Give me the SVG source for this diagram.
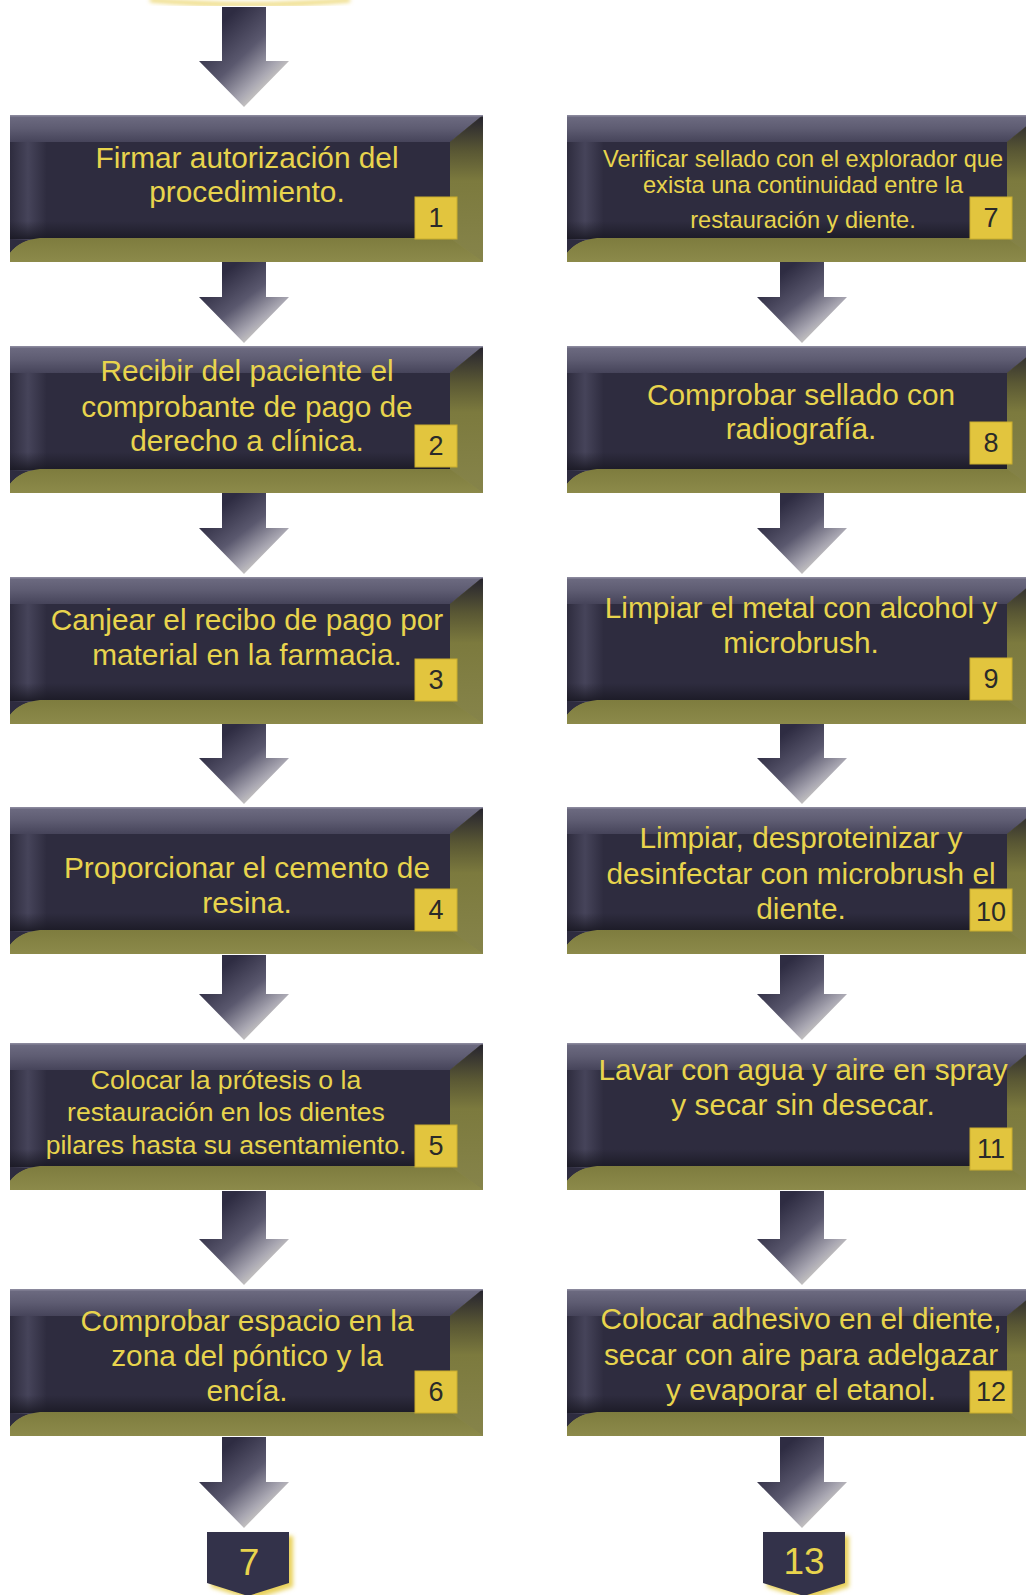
<svg xmlns="http://www.w3.org/2000/svg" xmlns:xlink="http://www.w3.org/1999/xlink" width="1026" height="1595" viewBox="0 0 1026 1595">
<defs>
<style>
.t{font-family:"Liberation Sans",Arial,sans-serif;font-size:29.8px;fill:#e8d44d;text-anchor:middle}
.ts{font-size:26.6px}
.tx{font-size:23.6px}
.bn{font-family:"Liberation Sans",Arial,sans-serif;font-size:27px;fill:#2a2a2a;text-anchor:middle}
.badge{fill:#e2c53e;stroke:#c9ad2e;stroke-width:1}
.arr{fill:url(#ag)}
.ct{font-family:"Liberation Sans",Arial,sans-serif;font-size:37px;fill:#e8d44d;text-anchor:middle}
</style>
<linearGradient id="olv" x1="0" y1="0" x2="0" y2="1">
<stop offset="0" stop-color="#7e7c3e"/><stop offset="1" stop-color="#8c8a4a"/>
</linearGradient>
<linearGradient id="topb" x1="0" y1="0" x2="0" y2="1">
<stop offset="0" stop-color="#6e6c82"/><stop offset="0.5" stop-color="#5e5c72"/><stop offset="1" stop-color="#46445a"/>
</linearGradient>
<linearGradient id="leftb" x1="0" y1="0" x2="1" y2="0">
<stop offset="0" stop-color="#2e2c3e"/><stop offset="0.5" stop-color="#46445a"/><stop offset="1" stop-color="#2f2d40"/>
</linearGradient>
<linearGradient id="rightb" x1="0" y1="0" x2="0" y2="1">
<stop offset="0" stop-color="#24222f"/><stop offset="0.25" stop-color="#5a5834"/><stop offset="0.45" stop-color="#7c7a3e"/><stop offset="1" stop-color="#86844a"/>
</linearGradient>
<linearGradient id="shad" x1="0" y1="0" x2="0" y2="1">
<stop offset="0" stop-color="#1c1b26" stop-opacity="0"/><stop offset="1" stop-color="#1a1924" stop-opacity="0.9"/>
</linearGradient>
<linearGradient id="ag" x1="0.15" y1="0.25" x2="0.8" y2="1">
<stop offset="0" stop-color="#2e2c42"/><stop offset="0.4" stop-color="#5a586e"/><stop offset="0.7" stop-color="#a9a7b2"/><stop offset="1" stop-color="#f2f0da"/>
</linearGradient>
<filter id="blur" x="-20%" y="-20%" width="140%" height="140%"><feGaussianBlur stdDeviation="2"/></filter>
<g id="box">
<rect x="0" y="0" width="473" height="147" fill="url(#olv)"/>
<path d="M0,0 H473 L440,27 V123 H30 Q10,125 0,138 Z" fill="#2e2c3f"/>
<path d="M0,0 H473 L440,27 H0 Z" fill="url(#topb)"/>
<rect x="0" y="27" width="36" height="98" fill="url(#leftb)"/>
<path d="M440,27 L473,0 V147 L440,123 Z" fill="url(#rightb)"/>
<rect x="0" y="106" width="440" height="18" fill="url(#shad)"/>
<path d="M0,138 Q10,125 30,123 H440 L473,147 H0 Z" fill="url(#olv)"/>
<rect x="0" y="0" width="473" height="1.5" fill="#8a889c"/>
</g>
</defs>
<rect x="0" y="0" width="1026" height="1595" fill="#ffffff"/>

<path d="M150,0 Q250,9 350,0" fill="none" stroke="#ecd772" stroke-width="4" filter="url(#blur)"/>

<g id="connectors">
<path class="arr" d="M222,7 H266 V61 H289 L244,107 L199,61 H222 Z"/>
<path class="arr" d="M222,262 H266 V297 H289 L244,343 L199,297 H222 Z"/>
<path class="arr" d="M222,493 H266 V528 H289 L244,574 L199,528 H222 Z"/>
<path class="arr" d="M222,724 H266 V758 H289 L244,804 L199,758 H222 Z"/>
<path class="arr" d="M222,955 H266 V994 H289 L244,1040 L199,994 H222 Z"/>
<path class="arr" d="M222,1191 H266 V1239 H289 L244,1285 L199,1239 H222 Z"/>
<path class="arr" d="M222,1437 H266 V1482 H289 L244,1528 L199,1482 H222 Z"/>
<path class="arr" d="M780,262 H824 V297 H847 L802,343 L757,297 H780 Z"/>
<path class="arr" d="M780,493 H824 V528 H847 L802,574 L757,528 H780 Z"/>
<path class="arr" d="M780,724 H824 V758 H847 L802,804 L757,758 H780 Z"/>
<path class="arr" d="M780,955 H824 V994 H847 L802,1040 L757,994 H780 Z"/>
<path class="arr" d="M780,1191 H824 V1239 H847 L802,1285 L757,1239 H780 Z"/>
<path class="arr" d="M780,1437 H824 V1482 H847 L802,1528 L757,1482 H780 Z"/>
</g>

<g id="node1">
<use xlink:href="#box" href="#box" x="10" y="115"/>
<text class="t" x="247" y="168">Firmar autorización del</text>
<text class="t" x="247" y="202">procedimiento.</text>
<rect class="badge" x="415" y="197" width="42" height="42"/>
<text class="bn" x="436" y="227">1</text>
</g>
<g id="node2">
<use xlink:href="#box" href="#box" x="10" y="346"/>
<text class="t" x="247" y="381">Recibir del paciente el</text>
<text class="t" x="247" y="417">comprobante de pago de</text>
<text class="t" x="247" y="451">derecho a clínica.</text>
<rect class="badge" x="415" y="425" width="42" height="42"/>
<text class="bn" x="436" y="455">2</text>
</g>
<g id="node3">
<use xlink:href="#box" href="#box" x="10" y="577"/>
<text class="t" x="247" y="630">Canjear el recibo de pago por</text>
<text class="t" x="247" y="665">material en la farmacia.</text>
<rect class="badge" x="415" y="659" width="42" height="42"/>
<text class="bn" x="436" y="689">3</text>
</g>
<g id="node4">
<use xlink:href="#box" href="#box" x="10" y="807"/>
<text class="t" x="247" y="878">Proporcionar el cemento de</text>
<text class="t" x="247" y="913">resina.</text>
<rect class="badge" x="415" y="889" width="42" height="42"/>
<text class="bn" x="436" y="919">4</text>
</g>
<g id="node5">
<use xlink:href="#box" href="#box" x="10" y="1043"/>
<text class="t ts" x="226" y="1089">Colocar la prótesis o la</text>
<text class="t ts" x="226" y="1121">restauración en los dientes</text>
<text class="t ts" x="226" y="1154">pilares hasta su asentamiento.</text>
<rect class="badge" x="415" y="1125" width="42" height="42"/>
<text class="bn" x="436" y="1155">5</text>
</g>
<g id="node6">
<use xlink:href="#box" href="#box" x="10" y="1289"/>
<text class="t" x="247" y="1331">Comprobar espacio en la</text>
<text class="t" x="247" y="1366">zona del póntico y la</text>
<text class="t" x="247" y="1401">encía.</text>
<rect class="badge" x="415" y="1371" width="42" height="42"/>
<text class="bn" x="436" y="1401">6</text>
</g>

<g id="node7">
<use xlink:href="#box" href="#box" x="567" y="115"/>
<text class="t tx" x="803" y="167">Verificar sellado con el explorador que</text>
<text class="t tx" x="803" y="193">exista una continuidad entre la</text>
<text class="t tx" x="803" y="228">restauración  y diente.</text>
<rect class="badge" x="970" y="197" width="42" height="42"/>
<text class="bn" x="991" y="227">7</text>
</g>
<g id="node8">
<use xlink:href="#box" href="#box" x="567" y="346"/>
<text class="t" x="801" y="405">Comprobar sellado con</text>
<text class="t" x="801" y="439">radiografía.</text>
<rect class="badge" x="970" y="422" width="42" height="42"/>
<text class="bn" x="991" y="452">8</text>
</g>
<g id="node9">
<use xlink:href="#box" href="#box" x="567" y="577"/>
<text class="t" x="801" y="618">Limpiar el metal con alcohol y</text>
<text class="t" x="801" y="653">microbrush.</text>
<rect class="badge" x="970" y="658" width="42" height="42"/>
<text class="bn" x="991" y="688">9</text>
</g>
<g id="node10">
<use xlink:href="#box" href="#box" x="567" y="807"/>
<text class="t" x="801" y="848">Limpiar, desproteinizar y</text>
<text class="t" x="801" y="884">desinfectar con microbrush el</text>
<text class="t" x="801" y="919">diente.</text>
<rect class="badge" x="970" y="889" width="42" height="42"/>
<text class="bn" x="991" y="921">10</text>
</g>
<g id="node11">
<use xlink:href="#box" href="#box" x="567" y="1043"/>
<text class="t" x="803" y="1080">Lavar con agua y aire en spray</text>
<text class="t" x="803" y="1115">y secar sin desecar.</text>
<rect class="badge" x="970" y="1128" width="42" height="42"/>
<text class="bn" x="991" y="1158">11</text>
</g>
<g id="node12">
<use xlink:href="#box" href="#box" x="567" y="1289"/>
<text class="t" x="801" y="1329">Colocar adhesivo en el diente,</text>
<text class="t" x="801" y="1365">secar con aire para adelgazar</text>
<text class="t" x="801" y="1400">y evaporar el etanol.</text>
<rect class="badge" x="970" y="1371" width="42" height="42"/>
<text class="bn" x="991" y="1401">12</text>
</g>

<g id="offpage7">
<path d="M211,1536 H293 V1587 L252,1600 L211,1587 Z" fill="#e9d25c" filter="url(#blur)"/>
<path d="M207,1532 H289 V1583 L248,1596 L207,1583 Z" fill="#33324a"/>
<text class="ct" x="249" y="1575">7</text>
</g>
<g id="offpage13">
<path d="M767,1536 H849 V1587 L808,1600 L767,1587 Z" fill="#e9d25c" filter="url(#blur)"/>
<path d="M763,1532 H845 V1583 L804,1596 L763,1583 Z" fill="#33324a"/>
<text class="ct" x="804" y="1574">13</text>
</g>
</svg>
